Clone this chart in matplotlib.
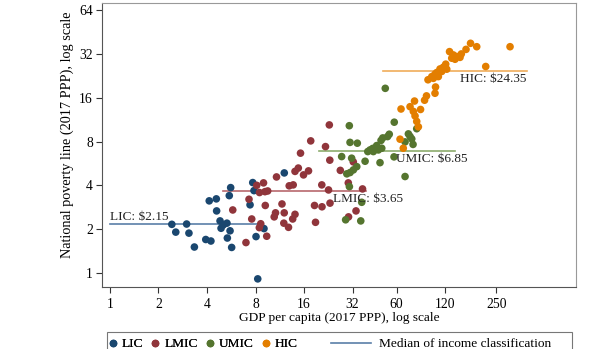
import matplotlib
matplotlib.use('Agg')
import matplotlib.pyplot as plt
from matplotlib.lines import Line2D
from matplotlib.patches import Rectangle
from matplotlib.ticker import NullLocator

plt.rcParams['font.family'] = ['Liberation Serif', 'DejaVu Serif']

# GDP per capita (x) and national poverty line (y), both 2017 PPP
lic_x = [2.42, 2.56, 2.99, 3.09, 3.34, 3.93, 4.23, 4.13, 4.57, 4.59, 4.82, 4.89, 5.05,
         5.32, 5.35, 5.56, 5.61, 5.50, 5.69, 7.40, 7.69, 7.83, 8.06, 9.03, 8.26, 12.07]
lic_y = [2.15, 1.90, 2.16, 1.87, 1.50, 1.69, 1.65, 3.12, 3.22, 2.66, 2.27, 2.02, 2.13,
         2.19, 1.73, 1.94, 3.85, 3.39, 1.49, 2.93, 4.17, 3.67, 1.77, 2.01, 0.905, 4.86]

lmic_x = [5.78, 6.98, 7.29, 8.14, 8.97, 8.47, 9.16, 9.52, 9.20, 7.58, 8.62, 8.45, 9.39,
          10.80, 14.07, 15.89, 17.06, 14.75, 12.95, 13.71, 11.68, 10.65, 10.45, 12.06,
          14.07, 13.61, 11.99, 12.82, 18.86, 20.63, 22.71, 18.59, 20.69, 23.20, 22.97,
          17.61, 21.75, 15.22, 23.13, 26.88, 30.13, 36.92, 30.23, 33.64, 32.36]
lmic_y = [2.70, 1.61, 3.20, 3.99, 4.15, 3.56, 3.61, 3.65, 2.90, 2.34, 2.17, 2.04, 1.78,
          4.56, 4.98, 4.71, 5.02, 5.25, 3.96, 4.02, 2.97, 2.58, 2.42, 2.58,
          2.52, 2.34, 2.19, 2.05, 2.22, 4.02, 3.71, 2.90, 2.84, 3.01, 10.41,
          8.08, 7.38, 6.65, 5.95, 5.06, 4.15, 3.77, 2.42, 2.66, 5.79]

umic_x = [51.1, 30.57, 30.88, 34.27, 58.1, 54.1, 52.8, 49.3, 48.1, 45.2, 42.7, 41.1,
          39.8, 43.1, 46.3, 71.1, 72.8, 74.6, 76.0, 80.1, 67.8, 27.4, 31.6, 38.3, 47.4,
          34.0, 32.4, 30.9, 29.5, 67.8, 30.6, 36.5, 29.0, 36.0, 57.9, 48.6]
umic_y = [18.6, 10.28, 7.89, 7.79, 10.87, 8.98, 8.65, 8.47, 8.14, 7.50, 7.17, 7.00,
          6.82, 6.82, 7.00, 9.03, 8.67, 8.34, 7.64, 9.80, 7.95, 6.30, 6.14, 5.85, 5.72,
          5.37, 5.10, 4.89, 4.79, 4.59, 3.91, 3.05, 2.31, 2.27, 6.27, 7.19]

hic_x = [303.9, 214.7, 172.8, 188.8, 162.0, 151.5, 148.7, 141.9, 135.1, 128.0, 132.1,
         138.5, 121.2, 117.1, 111.7, 106.6, 104.0, 109.1, 101.6, 94.1, 123.0, 114.5,
         99.3, 104.8, 104.0, 92.1, 89.6, 77.6, 72.8, 64.0, 84.6, 76.3, 78.2, 80.1,
         82.0, 63.1, 66.1]
hic_y = [36.0, 26.3, 38.0, 36.0, 34.5, 32.1, 30.4, 30.8, 31.6, 33.3, 30.0,
         29.5, 27.3, 26.0, 25.3, 23.9, 23.3, 22.4, 21.8, 21.3, 25.2, 24.3,
         22.4, 19.0, 17.2, 16.5, 15.4, 15.2, 13.9, 13.4, 13.3, 12.9, 12.0, 11.0,
         10.1, 8.30, 7.19]

groups = ['LIC', 'LMIC', 'UMIC', 'HIC']
colors = ['#1a476f', '#90353b', '#55752f', '#e37e00']
line_colors = ['#5a7fa8', '#b8686d', '#8cab6c', '#f0ad5a']

# medians and the span of each median line
medians = [2.15, 3.65, 6.85, 24.35]
med_x0 = [1.0, 5.05, 19.8, 49.5]
med_x1 = [8.3, 38.8, 138.5, 387.0]
med_labels = ['LIC: $2.15', 'LMIC: $3.65', 'UMIC: $6.85', 'HIC: $24.35']
label_x = [1.0, 24.2, 59.6, 148.7]
label_y = [2.18, 3.22, 6.07, 21.5]

xticks = [1, 2, 4, 8, 16, 32, 60, 120, 250]
yticks = [1, 2, 4, 8, 16, 32, 64]

fig = plt.figure(figsize=(5.94, 3.49), dpi=100, facecolor='white')
ax = fig.add_axes([0.1717, 0.178, 0.798, 0.8136])

xs = [lic_x, lmic_x, umic_x, hic_x]
ys = [lic_y, lmic_y, umic_y, hic_y]
for x, y, c in zip(xs, ys, colors):
    ax.scatter(x, y, s=30, color=c, edgecolors='none', zorder=3)

for i in range(4):
    ax.plot([med_x0[i], med_x1[i]], [medians[i], medians[i]], color=line_colors[i],
            lw=1.2, zorder=2)
    va = 'bottom' if i == 0 else 'center'
    ax.text(label_x[i], label_y[i], med_labels[i], fontsize=9.5, ha='left', va=va,
            color='#222222', zorder=4)

ax.set_xscale('log')
ax.set_yscale('log')
ax.set_xlim(0.892, 780)
ax.set_ylim(0.797, 72.1)
ax.set_xticks(xticks)
ax.set_xticklabels([str(t) for t in xticks])
ax.set_yticks(yticks)
ax.set_yticklabels([str(t) for t in yticks])
ax.xaxis.set_minor_locator(NullLocator())
ax.yaxis.set_minor_locator(NullLocator())
ax.tick_params(axis='both', labelsize=9.8, length=4.5, width=0.8, color='#333333', pad=2)
ax.tick_params(axis='x', pad=3.5)

for side in ['top', 'right']:
    ax.spines[side].set_color('#999999')
for side in ['left', 'bottom']:
    ax.spines[side].set_color('#555555')
for s in ax.spines.values():
    s.set_linewidth(0.8)

ax.set_xlabel('GDP per capita (2017 PPP), log scale', fontsize=9.6, labelpad=0.5)
ax.set_ylabel('National poverty line (2017 PPP), log scale', fontsize=10.3)
ax.yaxis.set_label_coords(-0.06, 0.535)

# legend: markers on the left, median line on the right, one shared frame
leg_y = 1 - 344 / 349
handles = [Line2D([], [], ls='none', marker='o', ms=5.5, color=c, mec='none') for c in colors]
leg1 = fig.legend(handles, groups, loc='center left', bbox_to_anchor=(108 / 594, leg_y),
                  ncol=4, frameon=False, fontsize=9.6, handlelength=0.7, handletextpad=0.3,
                  columnspacing=0.6, borderpad=0, borderaxespad=0)
fig.add_artist(leg1)
line_h = [Line2D([], [], color='#5a7fa8', lw=1.2)]
fig.legend(line_h, ['Median of income classification'], loc='center left',
           bbox_to_anchor=(331 / 594, leg_y), frameon=False, fontsize=9.6,
           handlelength=3.0, handletextpad=0.6, borderpad=0, borderaxespad=0)
fig.add_artist(Rectangle((107 / 594, -0.05), 465 / 594, 0.05 + 1 - 332 / 349,
                         transform=fig.transFigure, fill=False, ec='#777777', lw=0.8))

fig.savefig('out.png', dpi=100, facecolor='white')
